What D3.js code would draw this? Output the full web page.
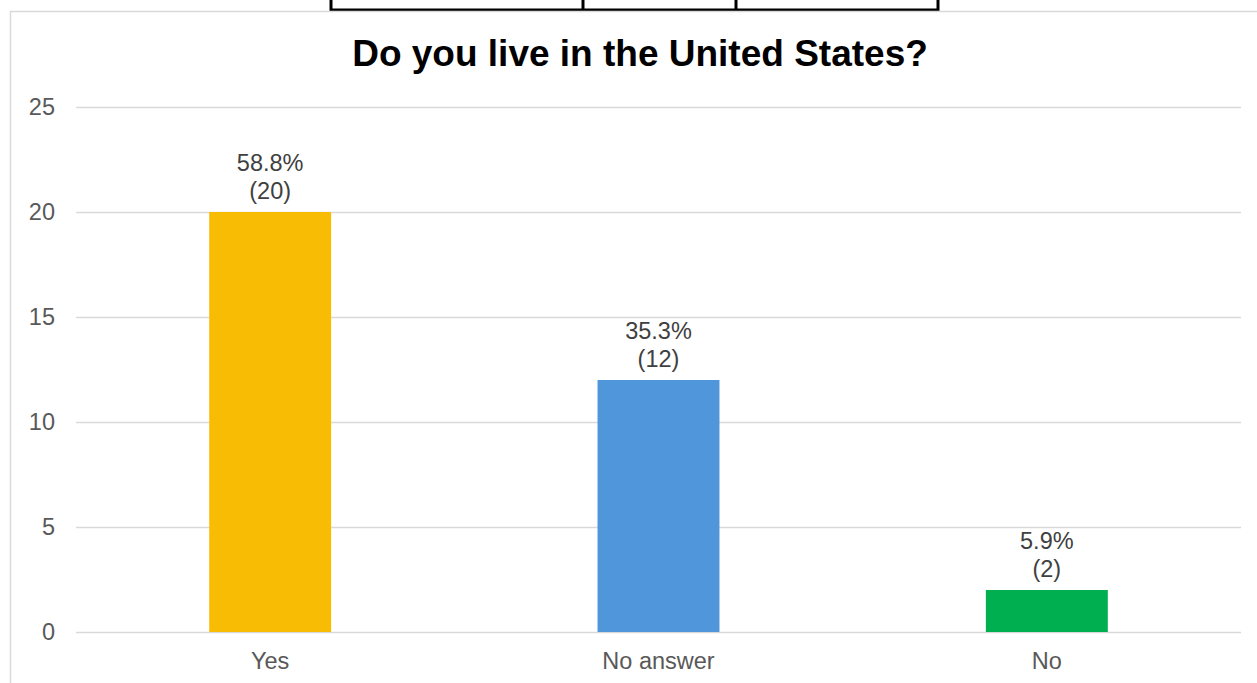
<!DOCTYPE html>
<html>
<head>
<meta charset="utf-8">
<script src="https://cdn.jsdelivr.net/npm/d3@7"></script>
<style>
  html, body { margin: 0; padding: 0; background: #fff; }
  svg { display: block; font-family: "Liberation Sans", Arial, sans-serif; }
</style>
</head>
<body>
<svg id="chart" width="1257" height="683"></svg>
<script>
// Survey answers: "Do you live in the United States?"
const categories = ["Yes", "No answer", "No"];
const counts = [20, 12, 2];
const percents = ["58.8%", "35.3%", "5.9%"];
const barColors = ["#F9BC05", "#5096DA", "#00AF50"];
const yTicks = [0, 5, 10, 15, 20, 25];

const svg = d3.select("#chart");
const FONT = "\"Liberation Sans\", Arial, sans-serif";

// Fragment of a table sitting above the chart box
const tbl = svg.append("g");
tbl.append("line").attr("x1", 331).attr("x2", 938).attr("y1", 10).attr("y2", 10)
  .attr("stroke", "#000").attr("stroke-width", 3);
[331, 583, 736, 938].forEach(xv => {
  tbl.append("line").attr("x1", xv).attr("x2", xv).attr("y1", -2).attr("y2", 11.5)
    .attr("stroke", "#000").attr("stroke-width", 3);
});

// Chart frame
svg.append("rect")
  .attr("x", 10.5).attr("y", 11.5)
  .attr("width", 1280).attr("height", 700)
  .attr("fill", "none").attr("stroke", "#D9D9D9").attr("stroke-width", 1.5);

// Title
svg.append("text")
  .attr("x", 640).attr("y", 66)
  .attr("text-anchor", "middle")
  .attr("font-size", 37).attr("font-weight", "bold").attr("fill", "#000")
  .text("Do you live in the United States?");

const plot = { left: 76, right: 1241, top: 107, bottom: 632 };

const x = d3.scaleBand()
  .domain(categories)
  .range([plot.left, plot.right])
  .paddingInner(0.686)
  .paddingOuter(0.343);

const y = d3.scaleLinear()
  .domain([0, 25])
  .range([plot.bottom, plot.top]);

// Horizontal gridlines
svg.append("g")
  .selectAll("line")
  .data(yTicks)
  .join("line")
  .attr("x1", plot.left).attr("x2", plot.right)
  .attr("y1", d => Math.round(y(d)) + 0.5).attr("y2", d => Math.round(y(d)) + 0.5)
  .attr("stroke", "#D9D9D9").attr("stroke-width", 1.5);

// Y axis labels
const yAxis = d3.axisLeft(y).tickValues(yTicks).tickSize(0).tickPadding(0);
const yg = svg.append("g").attr("transform", `translate(${plot.left - 21},0)`).call(yAxis);
yg.select(".domain").remove();
yg.selectAll("text").attr("font-size", 23.5).attr("fill", "#595959")
  .attr("font-family", FONT).attr("text-anchor", "end");

// Bars
const data = categories.map((c, i) => ({ c, v: counts[i], p: percents[i], col: barColors[i] }));
svg.append("g")
  .selectAll("rect")
  .data(data)
  .join("rect")
  .attr("x", d => x(d.c))
  .attr("width", x.bandwidth())
  .attr("y", d => y(d.v))
  .attr("height", d => y(0) - y(d.v))
  .attr("fill", d => d.col);

// Value labels: percentage over count
const lbl = svg.append("g").selectAll("g").data(data).join("g");
lbl.append("text")
  .attr("x", d => x(d.c) + x.bandwidth() / 2)
  .attr("y", d => y(d.v) - 41)
  .attr("text-anchor", "middle").attr("font-size", 23.5).attr("fill", "#404040")
  .text(d => d.p);
lbl.append("text")
  .attr("x", d => x(d.c) + x.bandwidth() / 2)
  .attr("y", d => y(d.v) - 13)
  .attr("text-anchor", "middle").attr("font-size", 23.5).attr("fill", "#404040")
  .text(d => `(${d.v})`);

// X axis labels
const xAxis = d3.axisBottom(x).tickSize(0).tickPadding(0);
const xg = svg.append("g").attr("transform", `translate(0,${plot.bottom + 20})`).call(xAxis);
xg.select(".domain").remove();
xg.selectAll("text").attr("font-size", 23.5).attr("fill", "#595959")
  .attr("font-family", FONT).attr("dy", "0.71em");
</script>
</body>
</html>
